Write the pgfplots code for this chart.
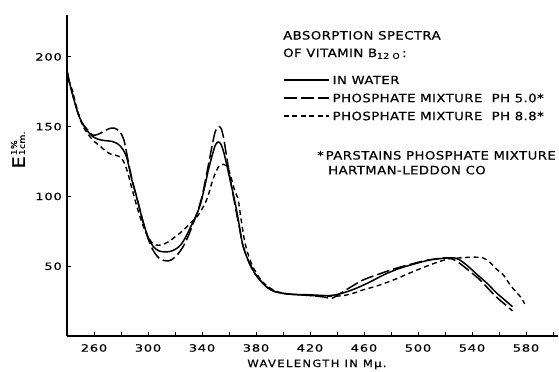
\documentclass[border=0pt]{standalone}
\usepackage{pgfplots}
\pgfplotsset{compat=1.18}
\usepackage{fontspec}
\setmainfont{DejaVu Sans}[FakeStretch=1.15, LetterSpace=4, FakeBold=0.5]
\newfontfamily\tickfont{DejaVu Sans}[FakeStretch=1.3, LetterSpace=8, FakeBold=0.6]
\newfontfamily\labfont{DejaVu Sans}[FakeStretch=1.15, LetterSpace=14, FakeBold=0.5]
\newcommand\legfont{\normalfont\fontsize{11.5bp}{13bp}\selectfont}

\pgfplotstableread{
x y
240 190
242 181
245 170
248 160
251 153
255 147
259 143
263 141
268 140
273 139.5
277 138
280 135.5
283 131
285 125
288 112
292 98
296 83
300 71
304 64
308 61
312 60.3
316 60.5
320 62
324 65
328 71
332 79
336 87
339 95
342 107
345 120
348 131
350 137
352 139
354 137.5
356 132
358 124
361 111
364 98
366 88
368 77
370 66
373 57
376 51
379 45
383 40
388 35
395 31.5
405 30
420 29.5
435 29
445 31
455 34.5
465 39
475 44
485 48
495 51
509 54.5
524 56
530 55
537 50
545 43
552 37
558 31
564 26
570 21
}\water

\pgfplotstableread{
x y
240 190
242 181
245 170
248 160
251 153
255 148
259 144
263 144.5
267 146.5
271 148.5
275 149
279 146.5
282 141
284 132
286 122
288 113
292 98
296 83
300 70
304 61
308 56
312 54
315 53.8
318 55
322 58.5
326 64
330 72
334 82
337 90
340 100
343 114
346 129
348 139
350 147
352 150
354 149
356 142
358 130
361 112
364 96
366 86
368 76
370 66
373 57
376 50
379 45
383 40
388 35
395 31.5
405 30
420 29
430 28
436 27
440 29
450 35
459 40
470 44
484 48.6
495 51.5
505 54
515 55.5
522 56
528 54
535 49
545 41
552 34
558 28
564 23
570 18
}\phfive

\pgfplotstableread{
x y
240 190
242 181
244 176
246 168
248 161
250 155
252 150
256 144
260 139.5
264 136.5
268 133
272 130.5
276 129.5
279 128.5
282 125
285 117
288 106
292 92
296 80
300 71
304 66
308 65
312 66
316 68
320 71
324 74
328 77.5
332 81.5
336 85
340 91
344 99
348 112
351 119
353 122
356 123
358 122
360 118
362 112
364 105
366.7 98
368 90
370 77
372 66
375 56
378 49
383 41
388 36
395 32
405 30
420 29
435 28.5
445 29
455 31.5
459 33
470 36
484 41
496 46
509 51
518 54
524 55.5
532 56
540 56.5
548 56
553 53
558 48
563 44
568 37
573 31
576 28
579 23
}\pheight

\begin{document}
\begin{tikzpicture}[x=1bp,y=1bp]
\begin{axis}[
  scale only axis, width=491bp, height=321bp,
  xmin=240, xmax=603.7, ymin=0, ymax=230,
  axis x line=bottom, axis y line=left,
  axis line style={-, line width=1.5bp},
  tick align=inside,
  major tick length=4bp,
  tick style={black, line width=1bp},
  xtick={260,280,...,600},
  xticklabels={260,,300,,340,,380,,420,,460,,500,,540,,580,},
  ytick={50,100,150,200},
  yticklabels={50,100,150,200},
  xticklabel style={font=\tickfont\fontsize{10bp}{12bp}\selectfont, inner sep=0pt, anchor=north, yshift=-8bp},
  yticklabel style={font=\tickfont\fontsize{10bp}{12bp}\selectfont, inner sep=0pt, anchor=east, xshift=-5bp},
  clip=false,
  legend cell align=left,
  legend style={at={(axis cs:400,186.3)}, anchor=north west, draw=none, fill=none,
    inner sep=0pt, row sep=10bp, column sep=3bp, font=\legfont,
    nodes={inner sep=0pt, text height=8bp, text depth=0pt}},
  legend image code/.code={\draw[#1] (0bp,0bp) -- (45bp,0bp);},
]
\addplot[black, line width=1.5bp, smooth, tension=0.5] table {\water};
\addplot[black, line width=1.5bp, smooth, tension=0.5, dash pattern=on 13bp off 4bp] table {\phfive};
\addplot[black, line width=1.4bp, smooth, tension=0.5, dash pattern=on 5bp off 3.5bp] table {\pheight};
\legend{IN WATER, PHOSPHATE MIXTURE\ \ PH 5.0*, PHOSPHATE MIXTURE\ \ PH 8.8*}
\coordinate (O) at (rel axis cs:0,0);
\end{axis}
\begin{scope}[shift={(O)}, xshift=-67bp, yshift=-35bp]
\node[anchor=base west, inner sep=0pt, font=\legfont] at (283,331.5) {ABSORPTION SPECTRA};
\node[anchor=base west, inner sep=0pt, font=\legfont] at (283,314) {OF VITAMIN B\textsubscript{12 O}\,:};
\node[anchor=base west, inner sep=0pt, font=\legfont] at (317,211.5) {*\,PARSTAINS PHOSPHATE MIXTURE};
\node[anchor=base west, inner sep=0pt, font=\legfont] at (328,196.7) {HARTMAN-LEDDON CO};
\node[anchor=base, inner sep=0pt, font=\labfont\fontsize{10bp}{12bp}\selectfont] at (317,4) {WAVELENGTH IN Mμ.};
\node[rotate=90, inner sep=0pt] at (19,221) {{\fontsize{17bp}{17bp}\selectfont E}\hspace{1bp}{\fontsize{8bp}{7bp}\selectfont\renewcommand{\arraystretch}{1}\begin{tabular}[b]{@{}l@{}}1\%\\1cm.\end{tabular}}};
\pgfresetboundingbox
\path[use as bounding box] (0,0) rectangle (559,371);
\end{scope}
\end{tikzpicture}
\end{document}
